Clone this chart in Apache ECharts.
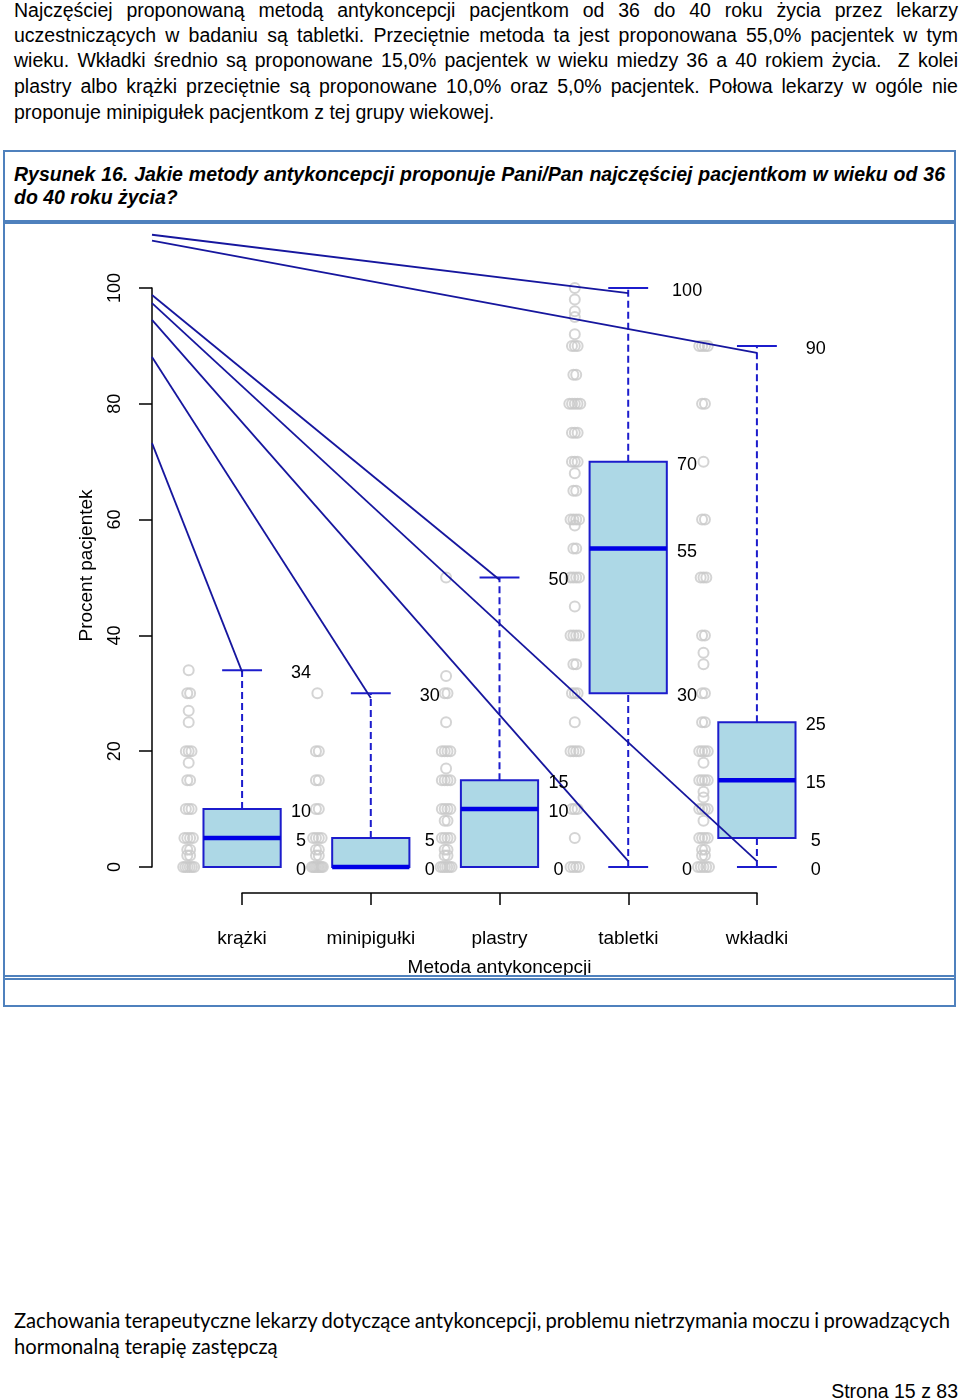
<!DOCTYPE html>
<html>
<head>
<meta charset="utf-8">
<script src="https://cdn.jsdelivr.net/npm/echarts@6/dist/echarts.min.js"></script>
<style>
html,body{margin:0;padding:0;background:#fff;}
body{width:960px;height:1400px;position:relative;overflow:hidden;font-family:'Liberation Sans',Arial,sans-serif;color:#000;}
.ln{position:absolute;left:14px;white-space:nowrap;line-height:26px;}
.body{font-size:19.5px;}
.ttl{font-size:19.5px;font-weight:bold;font-style:italic;line-height:23px;}
.foot{font-family:'Lato',sans-serif;font-size:20.2px;}
.hl{position:absolute;left:3px;width:953px;background:#4F81BD;z-index:5;}
#frame{position:absolute;left:3px;top:150px;width:953px;height:857px;border:2px solid #4F81BD;box-sizing:border-box;z-index:5;pointer-events:none;}
#chart{position:absolute;left:0;top:224px;width:960px;height:751px;z-index:2;}
</style>
</head>
<body>
<div class="ln body" id="p1" style="top:-3px">Najczęściej proponowaną metodą antykoncepcji pacjentkom od 36 do 40 roku życia przez lekarzy</div>
<div class="ln body" id="p2" style="top:22px">uczestniczących w badaniu są tabletki. Przeciętnie metoda ta jest proponowana 55,0% pacjentek w tym</div>
<div class="ln body" id="p3" style="top:47px">wieku. Wkładki średnio są proponowane 15,0% pacjentek w wieku miedzy 36 a 40 rokiem życia.&nbsp; Z kolei</div>
<div class="ln body" id="p4" style="top:73px">plastry albo krążki przeciętnie są proponowane 10,0% oraz 5,0% pacjentek. Połowa lekarzy w ogóle nie</div>
<div class="ln body" id="p5" style="top:99px">proponuje minipigułek pacjentkom z tej grupy wiekowej.</div>

<div id="frame"></div>
<div class="hl" style="top:220px;height:4px"></div>
<div class="hl" style="top:975px;height:2px"></div>
<div class="hl" style="top:978px;height:2px"></div>

<div class="ln ttl" id="t1" style="top:163px">Rysunek 16. Jakie metody antykoncepcji proponuje Pani/Pan najczęściej pacjentkom w wieku od 36</div>
<div class="ln ttl" id="t2" style="top:186px">do 40 roku życia?</div>

<div id="chart"></div>

<div class="ln foot" id="f1" style="top:1307px">Zachowania terapeutyczne lekarzy dotyczące antykoncepcji, problemu nietrzymania moczu i prowadzących</div>
<div class="ln foot" id="f2" style="top:1333px">hormonalną terapię zastępczą</div>
<div class="ln body" id="pg" style="top:1378px;left:auto;right:2px">Strona 15 z 83</div>

<script>
// ---------------- DATA ----------------
const categories = ['krążki', 'minipigułki', 'plastry', 'tabletki', 'wkładki'];
const whiskerLow  = [0, 0, 0, 0, 0];
const quartile1   = [0, 0, 0, 30, 5];
const medians     = [5, 0, 10, 55, 15];
const quartile3   = [10, 5, 15, 70, 25];
const whiskerHigh = [34, 30, 50, 100, 90];
const yTicks = [0, 20, 40, 60, 80, 100];

// values printed next to each box
const valueLabels = [
  [34, 10, 5, 0],
  [30, 5, 0],
  [50, 15, 10, 0],
  [100, 70, 55, 30, 0],
  [90, 25, 15, 5, 0]
];

// raw answers drawn as grey circles: [value, number of overlapping answers]
const pointsKrazki      = [[34,1],[30,2],[27,1],[25,1],[20,3],[18,1],[15,2],[10,3],[5,4],[3,2],[2,2],[0,6]];
const pointsMinipigulki = [[30,1],[20,2],[15,2],[10,2],[5,4],[3,2],[2,2],[0,8]];
const pointsPlastry     = [[50,1],[33,1],[30,2],[25,1],[20,4],[17,1],[15,4],[10,4],[8,2],[5,4],[3,2],[2,2],[0,6]];
const pointsTabletki    = [[100,1],[98,1],[96,1],[95,1],[92,1],[90,3],[85,2],[80,5],[75,3],[70,3],[68,1],[65,2],[60,4],[59,1],[55,2],[50,4],[45,1],[40,4],[35,2],[30,3],[25,1],[20,4],[10,3],[5,1],[0,4]];
const pointsWkladki     = [[90,4],[80,2],[70,1],[60,2],[50,3],[40,2],[37,1],[35,1],[30,2],[25,2],[20,4],[18,1],[15,4],[13,1],[12,1],[10,4],[8,1],[5,4],[3,2],[2,2],[0,5]];

// stray connector lines in the original figure: [xStart, yStart, xEnd, yEnd] in data units
const guideLines = [
  [0.3, 109.2, 4, 99.1],
  [0.3, 108.2, 5, 88.8],
  [0.3, 98.8, 3, 49.6],
  [0.3, 97.4, 5, 1.0],
  [0.3, 94.5, 4, 1.0],
  [0.3, 88.1, 2, 29.2],
  [0.3, 73.2, 1, 33.7]
];

// ---------------- TEXT FITTING ----------------
function fitLine(id, target){
  const el = document.getElementById(id);
  el.style.wordSpacing = '0px';
  const n = (el.textContent.match(/[ \u00a0]/g) || []).length;
  const w = el.getBoundingClientRect().width;
  if (n > 0) el.style.wordSpacing = ((target - w) / n).toFixed(2) + 'px';
}
['p1','p2','p3','p4'].forEach(id => fitLine(id, 944));
fitLine('t1', 931);
fitLine('f1', 936);

// ---------------- CHART ----------------
const FONT = "'Liberation Sans', Arial, sans-serif";
const BOX_EDGE = '#1C1CCC';
const MEDIAN = '#0000E6';
const GUIDE = '#16169E';
const POINT = '#C9C9C9';
const POINT_OFFSET = -0.415;
const LABEL_OFFSET = 0.45;

const allPoints = [pointsKrazki, pointsMinipigulki, pointsPlastry, pointsTabletki, pointsWkladki];
const pointData = [];
allPoints.forEach((list, ci) => {
  list.forEach(([v, n]) => {
    const step = n > 1 ? Math.min(0.022, 0.085 / (n - 1)) : 0;
    for (let k = 0; k < n; k++) {
      pointData.push([ci + 1 + POINT_OFFSET + (k - (n - 1) / 2) * step, v]);
    }
  });
});

const boxData = categories.map((c, i) => [i + 1, whiskerLow[i], quartile1[i], medians[i], quartile3[i], whiskerHigh[i]]);
const labelData = [];
valueLabels.forEach((vals, ci) => vals.forEach(v => labelData.push([ci + 1, v])));

function renderBox(params, api) {
  const x = api.value(0), lo = api.value(1), a = api.value(2), m = api.value(3), b = api.value(4), hi = api.value(5);
  const P = (xv, yv) => api.coord([xv, yv]);
  const ch = [];
  const dashed = { stroke: BOX_EDGE, lineWidth: 2, lineDash: [7, 4] };
  const solid = { stroke: BOX_EDGE, lineWidth: 2 };
  const capHalf = 0.155, boxHalf = 0.3;
  const seg = (p1, p2, style) => ({ type: 'line', shape: { x1: p1[0], y1: p1[1], x2: p2[0], y2: p2[1] }, style });
  if (hi > b) ch.push(seg(P(x, b), P(x, hi), dashed));
  if (lo < a) ch.push(seg(P(x, lo), P(x, a), dashed));
  ch.push(seg(P(x - capHalf, hi), P(x + capHalf, hi), solid));
  ch.push(seg(P(x - capHalf, lo), P(x + capHalf, lo), solid));
  const tl = P(x - boxHalf, b), br = P(x + boxHalf, a);
  ch.push({ type: 'rect', shape: { x: tl[0], y: tl[1], width: br[0] - tl[0], height: br[1] - tl[1] },
            style: { fill: '#ADD8E6', stroke: BOX_EDGE, lineWidth: 2 } });
  ch.push(seg(P(x - boxHalf, m), P(x + boxHalf, m), { stroke: MEDIAN, lineWidth: 4.5 }));
  return { type: 'group', children: ch };
}

function renderGuide(params, api) {
  const p1 = api.coord([api.value(0), api.value(1)]);
  const p2 = api.coord([api.value(2), api.value(3)]);
  return { type: 'line', shape: { x1: p1[0], y1: p1[1], x2: p2[0], y2: p2[1] }, style: { stroke: GUIDE, lineWidth: 1.8 } };
}

function renderLabel(params, api) {
  const v = api.value(1);
  const p = api.coord([api.value(0) + LABEL_OFFSET, v]);
  return { type: 'text', x: p[0] + 1, y: p[1] + 3,
           style: { text: String(v), fontSize: 18, fontFamily: FONT, fill: '#000', align: 'center', verticalAlign: 'middle' } };
}

const chart = echarts.init(document.getElementById('chart'), null, { renderer: 'canvas' });
chart.setOption({
  animation: false,
  backgroundColor: 'transparent',
  grid: [
    { left: 152, width: 695, top: 64, height: 579, outerBoundsMode: 'none', containLabel: false },
    { left: 242, width: 515, top: 600, height: 69, outerBoundsMode: 'none', containLabel: false }
  ],
  xAxis: [
    { gridIndex: 0, type: 'value', min: 0.3, max: 5.7, show: false },
    { gridIndex: 1, type: 'category', data: categories, boundaryGap: false,
      axisLine: { show: true, lineStyle: { color: '#000', width: 1.5 } },
      axisTick: { show: true, length: 12, interval: 0, lineStyle: { color: '#000', width: 1.5 } },
      axisLabel: { interval: 0, margin: 36, fontSize: 19, color: '#000', fontFamily: FONT },
      splitLine: { show: false },
      name: 'Metoda antykoncepcji', nameLocation: 'middle', nameGap: 65,
      nameTextStyle: { fontSize: 19, color: '#000', fontFamily: FONT } }
  ],
  yAxis: [
    { gridIndex: 0, type: 'value', min: yTicks[0], max: yTicks[yTicks.length - 1], interval: yTicks[1] - yTicks[0],
      axisLine: { show: true, lineStyle: { color: '#000', width: 1.5 } },
      axisTick: { show: true, length: 13, lineStyle: { color: '#000', width: 1.5 } },
      axisLabel: { rotate: 90, margin: 28, fontSize: 18, color: '#000', fontFamily: FONT },
      splitLine: { show: false },
      name: 'Procent pacjentek', nameLocation: 'middle', nameGap: 56,
      nameTextStyle: { fontSize: 19, color: '#000', fontFamily: FONT, padding: [0, 0, 0, 24] } },
    { gridIndex: 1, type: 'value', show: false }
  ],
  series: [
    { type: 'scatter', xAxisIndex: 0, yAxisIndex: 0, data: pointData, symbol: 'circle', symbolSize: 10,
      itemStyle: { color: 'rgba(255,255,255,0)', borderColor: POINT, borderWidth: 2 }, silent: true, z: 1 },
    { type: 'custom', xAxisIndex: 0, yAxisIndex: 0, data: boxData, renderItem: renderBox, silent: true, z: 2 },
    { type: 'custom', xAxisIndex: 0, yAxisIndex: 0, data: guideLines, renderItem: renderGuide, clip: false, silent: true, z: 3 },
    { type: 'custom', xAxisIndex: 0, yAxisIndex: 0, data: labelData, renderItem: renderLabel, clip: false, silent: true, z: 4 }
  ]
});
</script>
</body>
</html>
